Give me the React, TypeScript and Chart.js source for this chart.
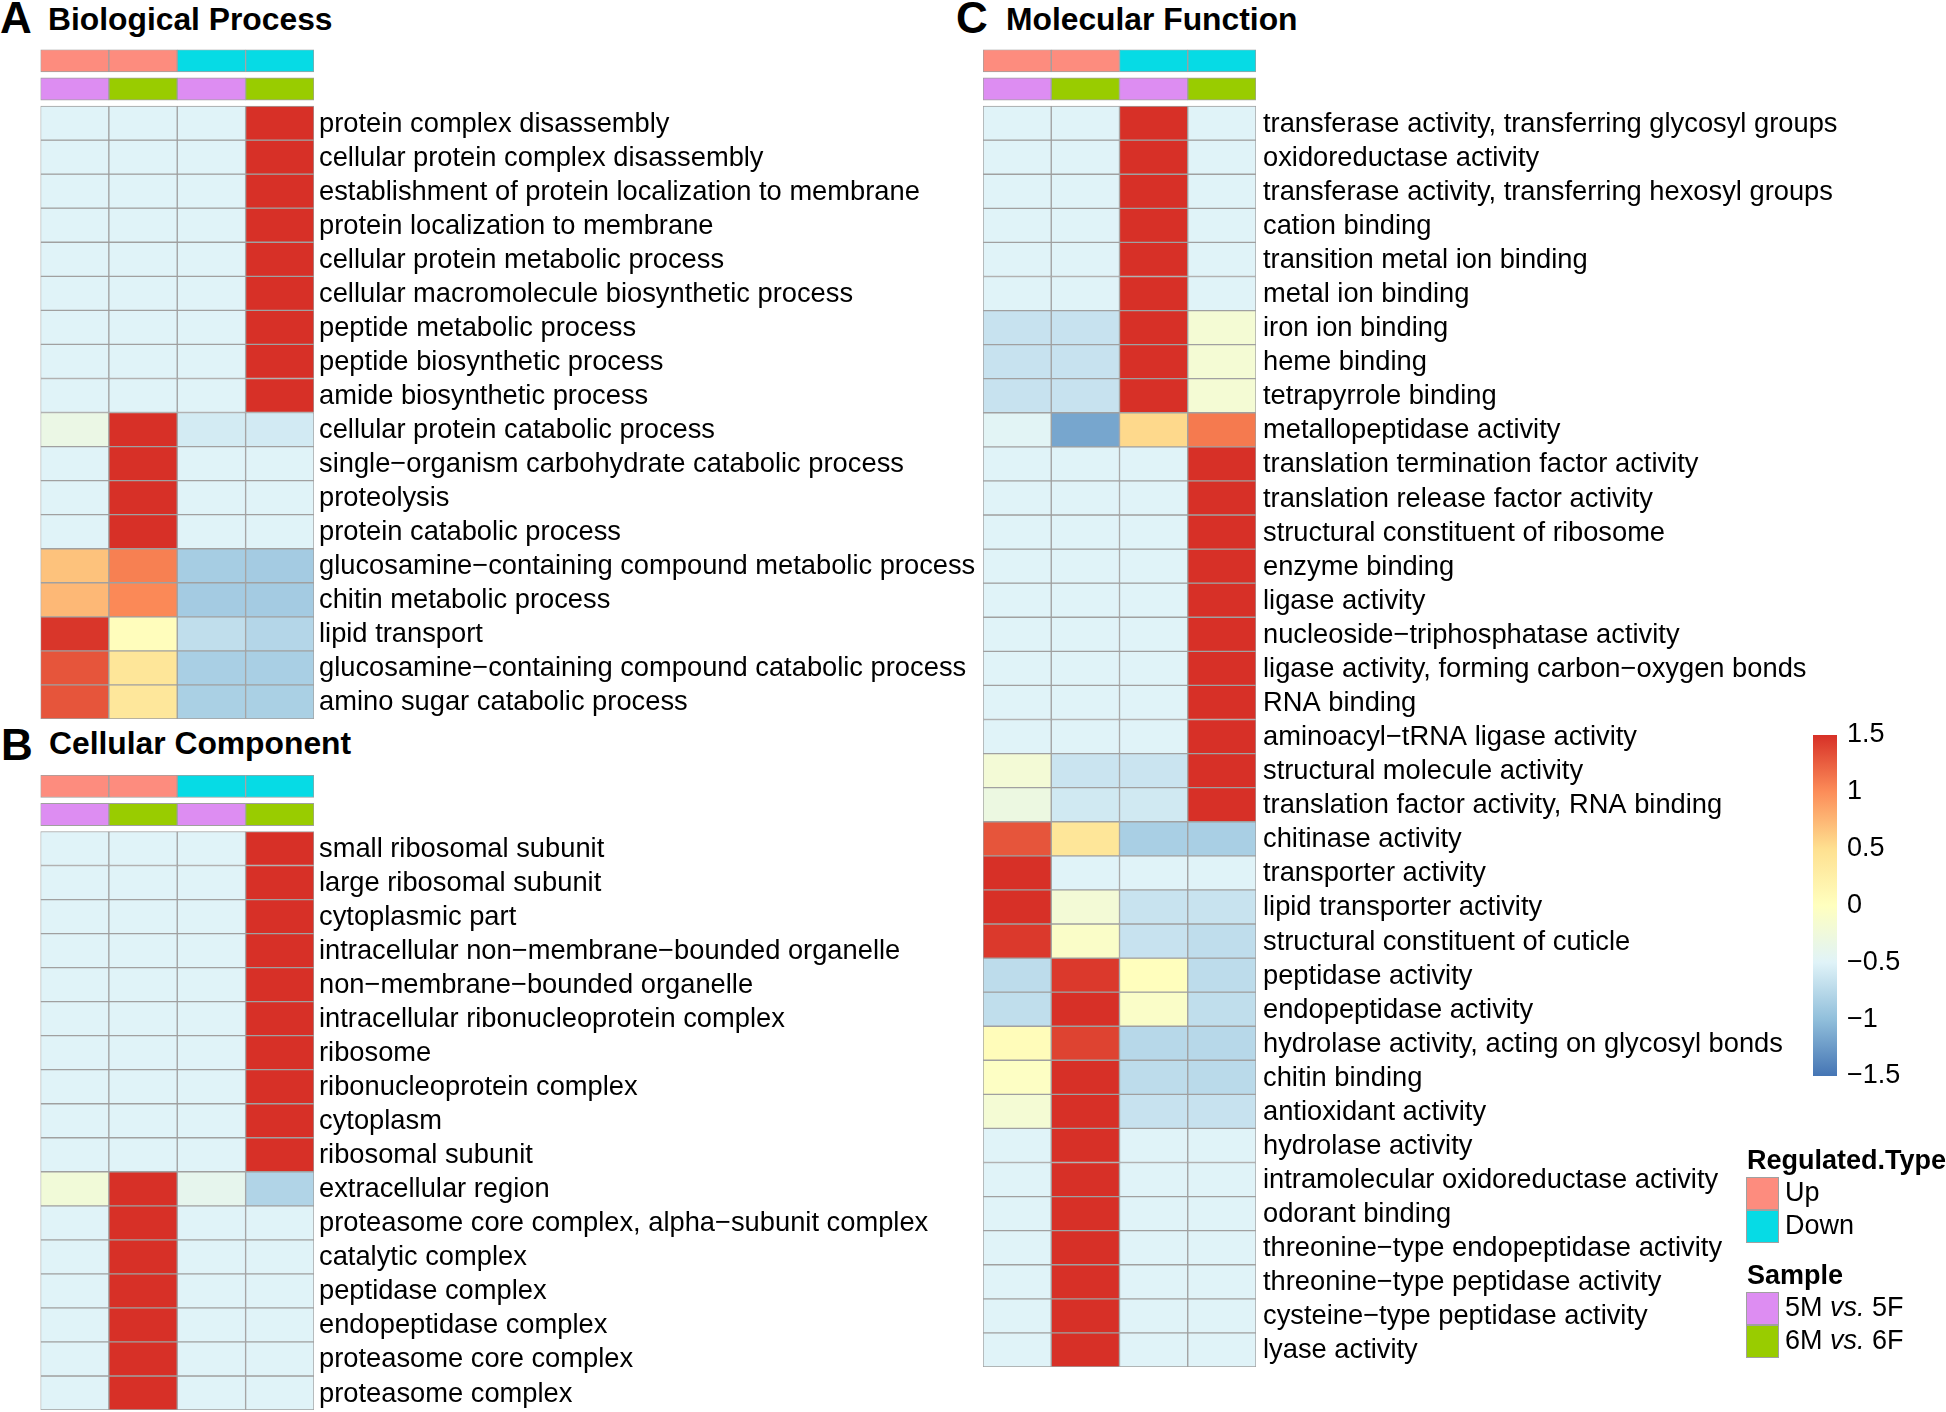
import React, { useEffect, useRef } from "react";
import { Chart, registerables } from "chart.js";

Chart.register(...registerables);

const FONT = "'Liberation Sans', Arial, Helvetica, sans-serif";
Chart.defaults.font.family = FONT;
Chart.defaults.color = "#000000";

// ---------- data ----------
const columnKeys = ["5M vs. 5F · Up", "6M vs. 6F · Up", "5M vs. 5F · Down", "6M vs. 6F · Down"];
const regulatedType = ["Up", "Up", "Down", "Down"];
const sampleGroup = ["5M vs. 5F", "6M vs. 6F", "5M vs. 5F", "6M vs. 6F"];
const regulatedLevels = ["Up", "Down"];
const regulatedColors = ["#FD8C7E", "#06DBE5"];
const sampleLevels = ["5M vs. 5F", "6M vs. 6F"];
const sampleColors = ["#DD8DF2", "#99CC00"];

const bpTerms = [
  "protein complex disassembly",
  "cellular protein complex disassembly",
  "establishment of protein localization to membrane",
  "protein localization to membrane",
  "cellular protein metabolic process",
  "cellular macromolecule biosynthetic process",
  "peptide metabolic process",
  "peptide biosynthetic process",
  "amide biosynthetic process",
  "cellular protein catabolic process",
  "single\u2212organism carbohydrate catabolic process",
  "proteolysis",
  "protein catabolic process",
  "glucosamine\u2212containing compound metabolic process",
  "chitin metabolic process",
  "lipid transport",
  "glucosamine\u2212containing compound catabolic process",
  "amino sugar catabolic process",
];
const bpValues = [
  [-0.5, -0.5, -0.5, 1.5],
  [-0.5, -0.5, -0.5, 1.5],
  [-0.5, -0.5, -0.5, 1.5],
  [-0.5, -0.5, -0.5, 1.5],
  [-0.5, -0.5, -0.5, 1.5],
  [-0.5, -0.5, -0.5, 1.5],
  [-0.5, -0.5, -0.5, 1.5],
  [-0.5, -0.5, -0.5, 1.5],
  [-0.5, -0.5, -0.5, 1.5],
  [-0.33, 1.5, -0.58, -0.59],
  [-0.5, 1.5, -0.5, -0.5],
  [-0.5, 1.5, -0.5, -0.5],
  [-0.5, 1.5, -0.5, -0.5],
  [0.68, 1.07, -0.87, -0.88],
  [0.74, 1.02, -0.88, -0.88],
  [1.47, 0.03, -0.7, -0.78],
  [1.3, 0.4, -0.85, -0.85],
  [1.3, 0.38, -0.84, -0.84],
];

const ccTerms = [
  "small ribosomal subunit",
  "large ribosomal subunit",
  "cytoplasmic part",
  "intracellular non\u2212membrane\u2212bounded organelle",
  "non\u2212membrane\u2212bounded organelle",
  "intracellular ribonucleoprotein complex",
  "ribosome",
  "ribonucleoprotein complex",
  "cytoplasm",
  "ribosomal subunit",
  "extracellular region",
  "proteasome core complex, alpha\u2212subunit complex",
  "catalytic complex",
  "peptidase complex",
  "endopeptidase complex",
  "proteasome core complex",
  "proteasome complex",
];
const ccValues = [
  [-0.5, -0.5, -0.5, 1.5],
  [-0.5, -0.5, -0.5, 1.5],
  [-0.5, -0.5, -0.5, 1.5],
  [-0.5, -0.5, -0.5, 1.5],
  [-0.5, -0.5, -0.5, 1.5],
  [-0.5, -0.5, -0.5, 1.5],
  [-0.5, -0.5, -0.5, 1.5],
  [-0.5, -0.5, -0.5, 1.5],
  [-0.5, -0.5, -0.5, 1.5],
  [-0.5, -0.5, -0.5, 1.5],
  [-0.22, 1.5, -0.4, -0.8],
  [-0.5, 1.5, -0.5, -0.5],
  [-0.5, 1.5, -0.5, -0.5],
  [-0.5, 1.5, -0.5, -0.5],
  [-0.5, 1.5, -0.5, -0.5],
  [-0.5, 1.5, -0.5, -0.5],
  [-0.5, 1.5, -0.5, -0.5],
];

const mfTerms = [
  "transferase activity, transferring glycosyl groups",
  "oxidoreductase activity",
  "transferase activity, transferring hexosyl groups",
  "cation binding",
  "transition metal ion binding",
  "metal ion binding",
  "iron ion binding",
  "heme binding",
  "tetrapyrrole binding",
  "metallopeptidase activity",
  "translation termination factor activity",
  "translation release factor activity",
  "structural constituent of ribosome",
  "enzyme binding",
  "ligase activity",
  "nucleoside\u2212triphosphatase activity",
  "ligase activity, forming carbon\u2212oxygen bonds",
  "RNA binding",
  "aminoacyl\u2212tRNA ligase activity",
  "structural molecule activity",
  "translation factor activity, RNA binding",
  "chitinase activity",
  "transporter activity",
  "lipid transporter activity",
  "structural constituent of cuticle",
  "peptidase activity",
  "endopeptidase activity",
  "hydrolase activity, acting on glycosyl bonds",
  "chitin binding",
  "antioxidant activity",
  "hydrolase activity",
  "intramolecular oxidoreductase activity",
  "odorant binding",
  "threonine\u2212type endopeptidase activity",
  "threonine\u2212type peptidase activity",
  "cysteine\u2212type peptidase activity",
  "lyase activity",
];
const mfValues = [
  [-0.5, -0.5, 1.5, -0.5],
  [-0.5, -0.5, 1.5, -0.5],
  [-0.5, -0.5, 1.5, -0.5],
  [-0.5, -0.5, 1.5, -0.5],
  [-0.5, -0.5, 1.5, -0.5],
  [-0.5, -0.5, 1.5, -0.5],
  [-0.66, -0.66, 1.5, -0.18],
  [-0.66, -0.66, 1.5, -0.18],
  [-0.66, -0.66, 1.5, -0.18],
  [-0.47, -1.17, 0.54, 1.1],
  [-0.5, -0.5, -0.5, 1.5],
  [-0.5, -0.5, -0.5, 1.5],
  [-0.5, -0.5, -0.5, 1.5],
  [-0.5, -0.5, -0.5, 1.5],
  [-0.5, -0.5, -0.5, 1.5],
  [-0.5, -0.5, -0.5, 1.5],
  [-0.5, -0.5, -0.5, 1.5],
  [-0.5, -0.5, -0.5, 1.5],
  [-0.5, -0.5, -0.5, 1.5],
  [-0.2, -0.64, -0.64, 1.5],
  [-0.3, -0.6, -0.6, 1.5],
  [1.3, 0.4, -0.85, -0.85],
  [1.5, -0.5, -0.5, -0.5],
  [1.5, -0.2, -0.65, -0.65],
  [1.45, -0.08, -0.66, -0.71],
  [-0.72, 1.45, 0.02, -0.72],
  [-0.7, 1.5, -0.08, -0.7],
  [0.05, 1.4, -0.76, -0.76],
  [-0.04, 1.5, -0.72, -0.74],
  [-0.18, 1.5, -0.66, -0.66],
  [-0.5, 1.5, -0.5, -0.5],
  [-0.5, 1.5, -0.5, -0.5],
  [-0.5, 1.5, -0.5, -0.5],
  [-0.5, 1.5, -0.5, -0.5],
  [-0.5, 1.5, -0.5, -0.5],
  [-0.5, 1.5, -0.5, -0.5],
  [-0.5, 1.5, -0.5, -0.5],
];

const colorbarTicks = [-1.5, -1, -0.5, 0, 0.5, 1, 1.5];
const paletteStops = ["#4575B4", "#91BFDB", "#E0F3F8", "#FFFFBF", "#FEE090", "#FC8D59", "#D73027"];

// ---------- helpers ----------
const SCALE_MIN = -1.5;
const SCALE_MAX = 1.5;
// annotation bands (in row units, above the first heatmap row)
const TYPE_BAND = [-1.66, -1.0];
const SAMPLE_BAND = [-0.83, -0.17];
const GRID_COLOR = "#A0A0A0";
const LABEL_SIZE = 27.3;

function hexToRgb(h: string) {
  const n = parseInt(h.slice(1), 16);
  return [(n >> 16) & 255, (n >> 8) & 255, n & 255];
}
const stopRgb = paletteStops.map(hexToRgb);

function valueColor(v: number) {
  const t = Math.max(0, Math.min(1, (v - SCALE_MIN) / (SCALE_MAX - SCALE_MIN)));
  const pos = t * (stopRgb.length - 1);
  const i = Math.min(stopRgb.length - 2, Math.floor(pos));
  const f = pos - i;
  const a = stopRgb[i];
  const b = stopRgb[i + 1];
  const c = a.map((x, k) => Math.round(x + (b[k] - x) * f));
  return `rgb(${c[0]},${c[1]},${c[2]})`;
}

type PanelProps = {
  terms: string[];
  values: number[][];
  canvasLeft: number;
  canvasTop: number;
  canvasWidth: number;
  canvasHeight: number;
  plotLeft: number;
  plotRight: number;
  plotTop: number;
  plotBottom: number;
  labelGap: number;
};

function HeatmapPanel(p: PanelProps) {
  const ref = useRef<HTMLCanvasElement>(null);
  useEffect(() => {
    if (!ref.current) return;
    const cellStyle = {
      grouped: false,
      barPercentage: 1,
      categoryPercentage: 1,
      borderWidth: 1,
      borderColor: GRID_COLOR,
      borderSkipped: false as const,
    };
    const datasets: any[] = [];
    datasets.push({
      label: "Regulated.Type",
      data: columnKeys.map(() => TYPE_BAND),
      backgroundColor: regulatedType.map((t) => regulatedColors[regulatedLevels.indexOf(t)]),
      ...cellStyle,
    });
    datasets.push({
      label: "Sample",
      data: columnKeys.map(() => SAMPLE_BAND),
      backgroundColor: sampleGroup.map((s) => sampleColors[sampleLevels.indexOf(s)]),
      ...cellStyle,
    });
    p.values.forEach((row, i) => {
      datasets.push({
        label: p.terms[i],
        data: row.map(() => [i, i + 1]),
        backgroundColor: row.map(valueColor),
        ...cellStyle,
      });
    });
    const axisWidth = p.canvasLeft + p.canvasWidth - p.plotRight;
    const chart = new Chart(ref.current, {
      type: "bar",
      data: { labels: columnKeys, datasets },
      options: {
        animation: false,
        responsive: false,
        maintainAspectRatio: false,
        layout: {
          padding: {
            left: p.plotLeft - p.canvasLeft,
            top: p.plotTop - p.canvasTop,
            right: 0,
            bottom: p.canvasTop + p.canvasHeight - p.plotBottom,
          },
        },
        plugins: { legend: { display: false }, tooltip: { enabled: false }, title: { display: false } },
        scales: {
          x: { display: false, offset: true },
          y: {
            type: "linear",
            position: "right",
            reverse: true,
            bounds: "data",
            min: TYPE_BAND[0],
            max: p.terms.length,
            grid: { display: false, drawTicks: false },
            border: { display: false },
            afterBuildTicks: (s: any) => {
              s.ticks = p.terms.map((_, i) => ({ value: i + 0.5 }));
            },
            afterFit: (s: any) => {
              s.width = axisWidth;
              s.paddingTop = 0;
              s.paddingBottom = 0;
            },
            ticks: {
              autoSkip: false,
              padding: p.labelGap,
              labelOffset: 1,
              color: "#000000",
              font: { family: FONT, size: LABEL_SIZE },
              callback: (_v: any, i: number) => p.terms[i],
            },
          },
        },
      } as any,
    });
    return () => chart.destroy();
  }, []);
  return (
    <canvas
      ref={ref}
      width={p.canvasWidth}
      height={p.canvasHeight}
      style={{ position: "absolute", left: p.canvasLeft, top: p.canvasTop, width: p.canvasWidth, height: p.canvasHeight }}
    />
  );
}

function ColorBar() {
  const ref = useRef<HTMLCanvasElement>(null);
  const left = 1780, top = 690, width = 166, height = 430;
  const plotLeft = 1813, plotRight = 1837, plotTop = 735, plotBottom = 1076;
  useEffect(() => {
    if (!ref.current) return;
    const chart = new Chart(ref.current, {
      type: "bar",
      data: {
        labels: ["scale"],
        datasets: [
          {
            data: [[SCALE_MIN, SCALE_MAX]],
            barPercentage: 1,
            categoryPercentage: 1,
            borderWidth: 0,
            backgroundColor: (ctx: any) => {
              const chart = ctx.chart;
              if (!chart.chartArea) return paletteStops[3];
              const y = chart.scales.y;
              const g = chart.ctx.createLinearGradient(0, y.getPixelForValue(SCALE_MIN), 0, y.getPixelForValue(SCALE_MAX));
              paletteStops.forEach((c, i) => g.addColorStop(i / (paletteStops.length - 1), c));
              return g;
            },
          },
        ],
      },
      options: {
        animation: false,
        responsive: false,
        maintainAspectRatio: false,
        layout: {
          padding: { left: plotLeft - left, top: plotTop - top, right: 0, bottom: top + height - plotBottom },
        },
        plugins: { legend: { display: false }, tooltip: { enabled: false } },
        scales: {
          x: { display: false },
          y: {
            type: "linear",
            position: "right",
            min: SCALE_MIN,
            max: SCALE_MAX,
            bounds: "data",
            grid: { display: false, drawTicks: false },
            border: { display: false },
            afterBuildTicks: (s: any) => {
              s.ticks = colorbarTicks.map((v) => ({ value: v }));
            },
            afterFit: (s: any) => {
              s.width = left + width - plotRight;
              s.paddingTop = 0;
              s.paddingBottom = 0;
            },
            ticks: {
              padding: 10,
              color: "#000000",
              font: { family: FONT, size: 27 },
              callback: (v: number) => (v < 0 ? "\u2212" + Math.abs(v) : String(v)),
            },
          },
        },
      } as any,
    });
    return () => chart.destroy();
  }, []);
  return (
    <canvas ref={ref} width={width} height={height} style={{ position: "absolute", left, top, width, height }} />
  );
}

function Text(props: { x: number; baseline: number; size: number; bold?: boolean; children: any }) {
  const { x, baseline, size, bold, children } = props;
  return (
    <div
      style={{
        position: "absolute",
        left: x,
        top: baseline - 0.8465 * size,
        fontFamily: FONT,
        fontSize: size,
        lineHeight: 1,
        fontWeight: bold ? 700 : 400,
        color: "#000",
        whiteSpace: "nowrap",
      }}
    >
      {children}
    </div>
  );
}

function Swatch(props: { x: number; y: number; w: number; h: number; color: string }) {
  return (
    <div
      style={{
        position: "absolute",
        left: props.x,
        top: props.y,
        width: props.w,
        height: props.h,
        background: props.color,
        border: `1px solid ${GRID_COLOR}`,
        boxSizing: "border-box",
      }}
    />
  );
}

export default function App() {
  return (
    <div style={{ position: "absolute", left: 0, top: 0, width: 1946, height: 1412, background: "#fff", overflow: "hidden" }}>
      <Text x={0} baseline={33} size={44} bold>A</Text>
      <Text x={48} baseline={31} size={31.8} bold>Biological Process</Text>
      <Text x={1} baseline={760} size={44} bold>B</Text>
      <Text x={49} baseline={755} size={31.8} bold>Cellular Component</Text>
      <Text x={956} baseline={33} size={44} bold>C</Text>
      <Text x={1006} baseline={31} size={31.8} bold>Molecular Function</Text>

      <HeatmapPanel
        terms={bpTerms}
        values={bpValues}
        canvasLeft={0}
        canvasTop={0}
        canvasWidth={980}
        canvasHeight={745}
        plotLeft={40.5}
        plotRight={314}
        plotTop={49.5}
        plotBottom={719}
        labelGap={5}
      />
      <HeatmapPanel
        terms={ccTerms}
        values={ccValues}
        canvasLeft={0}
        canvasTop={765}
        canvasWidth={980}
        canvasHeight={647}
        plotLeft={40.5}
        plotRight={314}
        plotTop={775}
        plotBottom={1410}
        labelGap={5}
      />
      <HeatmapPanel
        terms={mfTerms}
        values={mfValues}
        canvasLeft={950}
        canvasTop={0}
        canvasWidth={920}
        canvasHeight={1400}
        plotLeft={983}
        plotRight={1256}
        plotTop={49.5}
        plotBottom={1367}
        labelGap={7}
      />
      <ColorBar />

      <Text x={1747} baseline={1170} size={27} bold>Regulated.Type</Text>
      {regulatedLevels.map((lvl, i) => (
        <React.Fragment key={lvl}>
          <Swatch x={1746} y={1177 + i * 33} w={33} h={33} color={regulatedColors[i]} />
          <Text x={1785} baseline={1202 + i * 33} size={27}>{lvl}</Text>
        </React.Fragment>
      ))}
      <Text x={1747} baseline={1285} size={27} bold>Sample</Text>
      {sampleLevels.map((lvl, i) => {
        const [a, vs, b] = lvl.split(" ");
        return (
          <React.Fragment key={lvl}>
            <Swatch x={1746} y={1292 + i * 33} w={33} h={33} color={sampleColors[i]} />
            <Text x={1785} baseline={1317 + i * 33} size={27}>
              {a} <i>{vs}</i> {b}
            </Text>
          </React.Fragment>
        );
      })}
    </div>
  );
}
